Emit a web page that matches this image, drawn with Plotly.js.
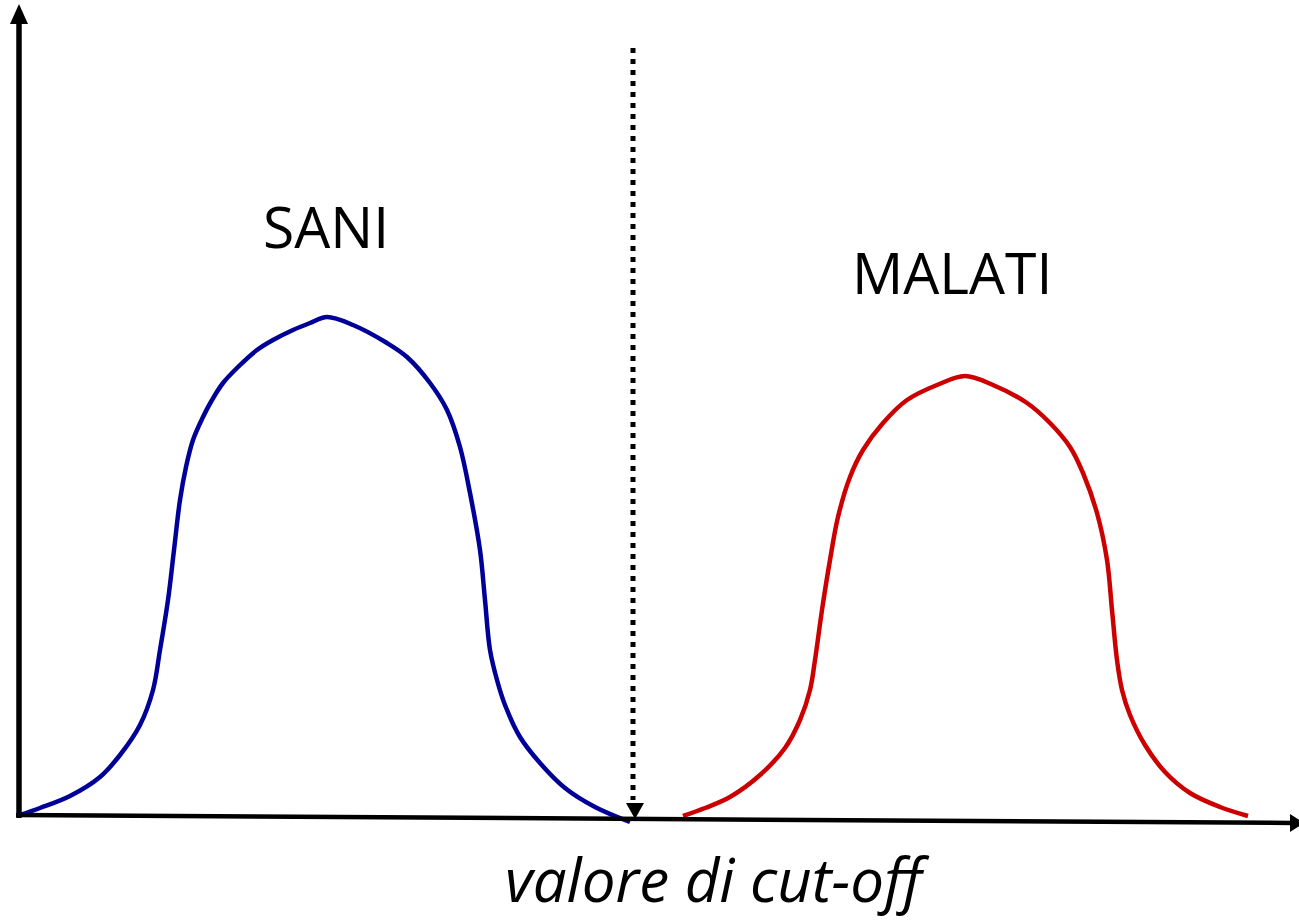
<!DOCTYPE html>
<html>
<head>
<meta charset="utf-8">
<script src="https://cdn.plot.ly/plotly-3.0.1.min.js"></script>
<style>html,body{margin:0;padding:0;background:#fff;} #chart{width:1299px;height:922px;}</style>
</head>
<body>
<div id="chart"></div>
<script>
// Healthy (SANI) distribution curve
var saniX = [20, 40, 70, 100, 120, 140, 153, 160, 168, 174, 180, 186, 193, 203, 212, 223, 238, 257, 273, 293, 310, 327, 353, 387, 407, 430, 447, 460, 470, 480, 485, 490, 497, 505, 520, 540, 565, 595, 630];
var saniY = [815, 808, 796, 777, 755, 725, 690, 650, 600, 550, 500, 467, 440, 417, 400, 383, 367, 350, 340, 330, 323, 317, 325, 343, 357, 383, 410, 447, 493, 550, 600, 650, 680, 705, 737, 763, 788, 807, 822];
// Diseased (MALATI) distribution curve
var malatiX = [683, 705, 730, 760, 785, 800, 810, 815, 822, 830, 838, 850, 863, 883, 907, 937, 965, 993, 1027, 1050, 1070, 1083, 1097, 1107, 1112, 1117, 1122, 1130, 1145, 1165, 1190, 1220, 1248];
var malatiY = [816, 808, 797, 775, 748, 720, 690, 660, 610, 560, 517, 477, 450, 423, 400, 385, 376, 385, 403, 423, 447, 473, 513, 560, 610, 660, 690, 715, 745, 772, 793, 807, 816];
// Cut-off position
var cutX = [633, 633];
var cutY = [48, 800];
var labels = ["SANI", "MALATI", "valore di cut-off"];

var traces = [
  {x: saniX, y: saniY, mode: "lines", line: {color: "#000099", width: 4.5, shape: "spline", smoothing: 1}, hoverinfo: "skip"},
  {x: malatiX, y: malatiY, mode: "lines", line: {color: "#cc0000", width: 4.5, shape: "spline", smoothing: 1}, hoverinfo: "skip"},
  {x: cutX, y: cutY, mode: "lines", line: {color: "#000000", width: 5, dash: "5px,6px"}, hoverinfo: "skip"}
];

var layout = {
  width: 1299, height: 922,
  margin: {l: 0, r: 0, t: 0, b: 0},
  paper_bgcolor: "#ffffff", plot_bgcolor: "#ffffff",
  showlegend: false,
  xaxis: {range: [0, 1299], visible: false, fixedrange: true},
  yaxis: {range: [922, 0], visible: false, fixedrange: true},
  shapes: [
    // y axis
    {type: "line", x0: 19, y0: 818, x1: 19, y1: 20, line: {color: "#000", width: 5.5}},
    {type: "path", path: "M 19 4 L 10 24 L 28 24 Z", fillcolor: "#000", line: {width: 0}},
    // x axis (slightly slanted)
    {type: "line", x0: 16, y0: 815, x1: 1293, y1: 823, line: {color: "#000", width: 4.5}},
    {type: "path", path: "M 1304 823 L 1290 814 L 1290 832 Z", fillcolor: "#000", line: {width: 0}},
    // cut-off arrow head
    {type: "path", path: "M 626 803 L 644 803 L 635 819 Z", fillcolor: "#000", line: {width: 0}}
  ],
  annotations: [
    {x: 326, y: 226, text: labels[0], showarrow: false, xanchor: "center", yanchor: "middle",
     font: {family: "Open Sans", size: 57, color: "#000"}},
    {x: 952, y: 272, text: labels[1], showarrow: false, xanchor: "center", yanchor: "middle",
     font: {family: "Open Sans", size: 57, color: "#000"}},
    {x: 717, y: 879, text: "<i>" + labels[2] + "</i>", showarrow: false, xanchor: "center", yanchor: "middle",
     font: {family: "Open Sans", size: 60, color: "#000"}}
  ]
};

Plotly.newPlot("chart", traces, layout, {staticPlot: true, displayModeBar: false});
</script>
</body>
</html>
